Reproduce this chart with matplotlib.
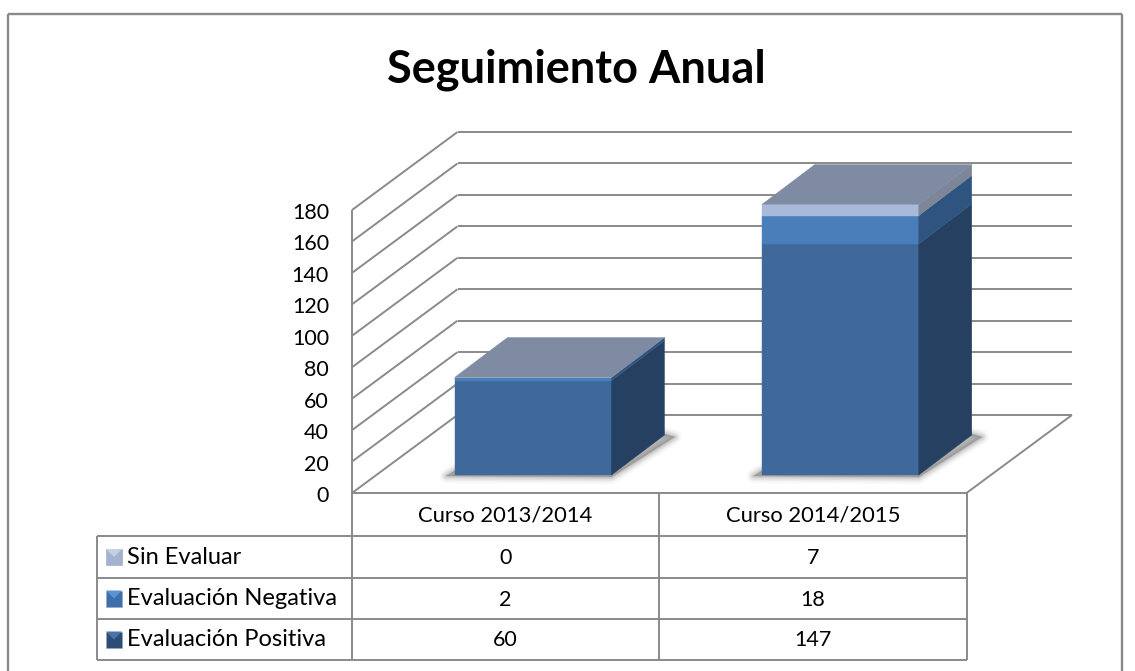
import matplotlib as mpl
mpl.use('Agg')
import matplotlib.pyplot as plt

# datos
cursos = ['Curso 2013/2014', 'Curso 2014/2015']
series = ['Sin Evaluar', 'Evaluación Negativa', 'Evaluación Positiva']
sin_evaluar = [0, 7]
negativa = [2, 18]
positiva = [60, 147]
ticks = [0, 20, 40, 60, 80, 100, 120, 140, 160, 180]

# colores: frente, lado
col_pos = ('#3f689b', '#254061')
col_neg = ('#4a7ebb', '#2f5480')
col_sin = ('#a9b9d9', '#7c8698')
col_top = '#7f8ba3'
gris = '#8a8a8a'

plt.rcParams['font.family'] = ['Lato', 'DejaVu Sans']

fig = plt.figure(figsize=(11.35, 6.71), dpi=100)
ax = fig.add_axes([0, 0, 1, 1])
ax.set_xlim(0, 1135)
ax.set_ylim(671, 0)
ax.axis('off')

# geometria en pixeles
x0 = 352
y0 = 493
ancho_cat = 307.25
px_valor = 283 / 180
fondo_x = 105.5
fondo_y = 78
bar_gap = 102.5
bar_w = 157
bar_dx = 53
bar_dy = 40
bar_base = 475


def linea(xs, ys, lw=1.4, z=1):
    ax.plot(xs, ys, color=gris, lw=lw, zorder=z, solid_capstyle='butt')


# marco
linea([8, 8], [671, 14], 1.7)
linea([8, 1122], [14, 14], 1.7)
linea([1122, 1122], [14, 671], 1.7)

ax.text(576, 70, 'Seguimiento Anual', ha='center', va='center', fontsize=32.5,
        fontweight='bold', color='black')

# paredes y lineas de division
x_der = x0 + ancho_cat * len(cursos)
for t in ticks:
    y = y0 - t * px_valor
    linea([x0, x0 + fondo_x], [y, y - fondo_y])
    linea([x0 + fondo_x, x_der + fondo_x], [y - fondo_y, y - fondo_y])
    ax.text(329, y + 3, str(t), ha='right', va='center', fontsize=15.5, color='black')
linea([x0, x0], [y0 - ticks[-1] * px_valor, 660], 1.4, 3)
linea([x0, x_der], [y0, y0])
linea([x_der, x_der + fondo_x], [y0, y0 - fondo_y])


def cara(xs, ys, color, z):
    ax.fill(xs, ys, facecolor=color, edgecolor=color, lw=0.3, zorder=z)


# barras
for i in range(len(cursos)):
    xa = x0 + ancho_cat * i + bar_gap
    xb = xa + bar_w

    # sombra
    for lw, alpha in [(10, 0.05), (7, 0.08), (5, 0.1), (3, 0.14), (1, 0.2)]:
        ax.fill([xa - 8, xb, xb + bar_dx + 10, xb + bar_dx - 10, xa],
                [bar_base + 1, bar_base + 2, bar_base - bar_dy + 2, bar_base - bar_dy - 4, bar_base - 4],
                facecolor='#707070', edgecolor='#707070', lw=lw, alpha=alpha, zorder=4, joinstyle='round')

    base = 0
    for valor, col in [(positiva[i], col_pos), (negativa[i], col_neg), (sin_evaluar[i], col_sin)]:
        if valor == 0:
            continue
        y1 = bar_base - base * px_valor
        y2 = bar_base - (base + valor) * px_valor
        cara([xa, xb, xb, xa], [y1, y1, y2, y2], col[0], 6)
        cara([xb, xb + bar_dx, xb + bar_dx, xb], [y1, y1 - bar_dy, y2 - bar_dy, y2], col[1], 6)
        base += valor
    ytop = bar_base - base * px_valor
    cara([xa, xb, xb + bar_dx, xa + bar_dx], [ytop, ytop, ytop - bar_dy, ytop - bar_dy], col_top, 7)

# tabla de datos
col_x = [x0 + ancho_cat * i for i in range(len(cursos) + 1)]
fila_y = [y0, 536, 578, 619, 660]
x_ley = 97
for y in fila_y[1:]:
    linea([x_ley, x_der], [y, y])
linea([x_ley, x_ley], [fila_y[1], fila_y[-1]])
for x in col_x[1:]:
    linea([x, x], [y0, fila_y[-1]])

for i, c in enumerate(cursos):
    ax.text(col_x[i] + ancho_cat / 2, 515, c, ha='center', va='center', fontsize=15.8)

valores = [sin_evaluar, negativa, positiva]
claves = [('#c4d0e4', '#a3b3cf'), ('#5b93d3', '#3d6fad'), ('#4a74a8', '#2c4d76')]
for f, nombre in enumerate(series):
    yc = (fila_y[f + 1] + fila_y[f + 2]) / 2
    ax.text(127, yc, nombre, ha='left', va='center', fontsize=17)
    for i in range(len(cursos)):
        ax.text(col_x[i] + ancho_cat / 2, yc + 1, str(valores[f][i]), ha='center', va='center', fontsize=15.5)
    # clave de la leyenda
    k = 8
    ax.fill([106, 122, 122, 106], [yc - k, yc - k, yc + k, yc + k], facecolor=claves[f][1],
            edgecolor='#9aa5b5', lw=0.4, zorder=5)
    ax.fill([106, 122, 114], [yc - k, yc - k, yc], facecolor=claves[f][0], zorder=6)

fig.savefig('out.png', dpi=100)
